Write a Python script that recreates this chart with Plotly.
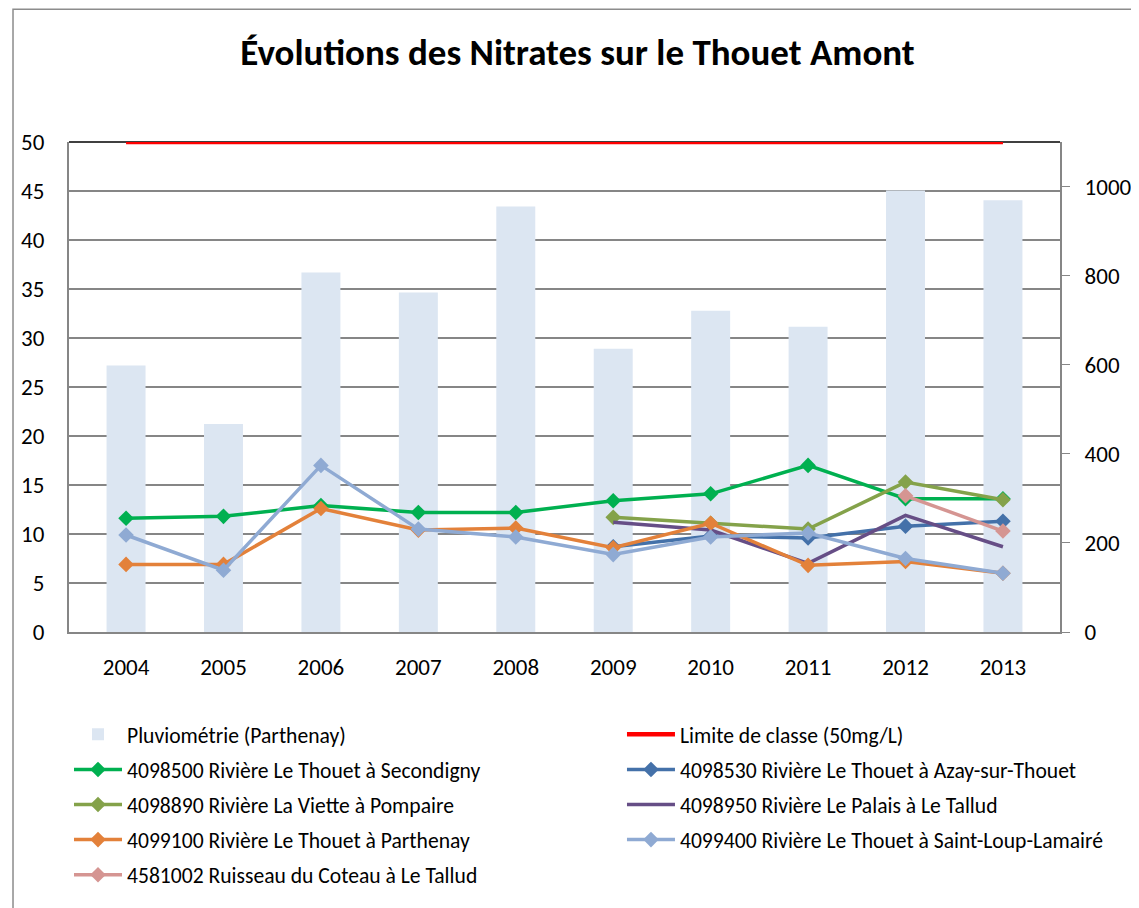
import plotly.graph_objects as go

years = ["2004", "2005", "2006", "2007", "2008", "2009", "2010", "2011", "2012", "2013"]

pluvio = [598, 467, 807, 762, 955, 636, 721, 685, 991, 969]
limite = [50, 50, 50, 50, 50, 50, 50, 50, 50, 50]
secondigny = [11.6, 11.8, 12.9, 12.2, 12.2, 13.4, 14.1, 17.0, 13.6, 13.6]
azay = [None, None, None, None, None, 8.7, 9.8, 9.6, 10.8, 11.3]
viette = [None, None, None, None, None, 11.7, 11.1, 10.5, 15.3, 13.5]
palais = [None, None, None, None, None, 11.2, 10.4, 7.0, 11.9, 8.7]
parthenay = [6.9, 6.9, 12.6, 10.4, 10.6, 8.6, 11.1, 6.8, 7.2, 6.0]
saint_loup = [9.9, 6.3, 17.0, 10.5, 9.7, 7.9, 9.7, 10.1, 7.5, 6.0]
coteau = [None, None, None, None, None, None, None, None, 13.9, 10.3]

FONT = "Calibri, Carlito, Lato, sans-serif"

fig = go.Figure()

# rainfall bars on the primary (right) axis so the lines draw on top
fig.add_trace(go.Bar(
    x=years, y=pluvio, name="Pluviométrie (Parthenay)",
    marker=dict(color="#DCE6F2", line=dict(width=0)),
    width=0.4, yaxis="y", legend="legend", legendgroup="a"
))


def add_line(values, name, color, legend, group, markers=True):
    fig.add_trace(go.Scatter(
        x=years, y=values, name=name,
        mode="lines+markers" if markers else "lines",
        line=dict(color=color, width=3.5),
        marker=dict(symbol="diamond", size=12, color=color),
        yaxis="y2", cliponaxis=False,
        legend=legend, legendgroup=group
    ))


fig.add_trace(go.Scatter(
    x=years, y=limite, name="Limite de classe (50mg/L)", mode="lines",
    line=dict(color="#FF0000", width=4.5), yaxis="y2", cliponaxis=False,
    legend="legend2", legendgroup="b"
))
add_line(secondigny, "4098500 Rivière Le Thouet à Secondigny", "#00B050", "legend", "c")
add_line(azay, "4098530 Rivière Le Thouet à Azay-sur-Thouet", "#4471A9", "legend2", "d")
add_line(viette, "4098890 Rivière La Viette à Pompaire", "#84A24A", "legend", "e")
add_line(palais, "4098950 Rivière Le Palais à Le Tallud", "#664E86", "legend2", "f", markers=False)
add_line(parthenay, "4099100 Rivière Le Thouet à Parthenay", "#E3813A", "legend", "g")
add_line(saint_loup, "4099400 Rivière Le Thouet à Saint-Loup-Lamairé", "#8FAAD3", "legend2", "h")
add_line(coteau, "4581002 Ruisseau du Coteau à Le Tallud", "#D59592", "legend", "i")

legend_style = dict(
    orientation="v", xanchor="left", yanchor="top",
    font=dict(family=FONT, size=21.6, color="#000000"),
    tracegroupgap=4, itemwidth=48, bgcolor="rgba(0,0,0,0)",
    traceorder="grouped"
)

fig.update_layout(
    width=1139, height=908,
    paper_bgcolor="white", plot_bgcolor="white",
    margin=dict(l=61, r=87, t=134, b=284),
    font=dict(family=FONT, size=23, color="#000000"),
    title=dict(
        text="<b>Évolutions des Nitrates sur le Thouet Amont</b>",
        font=dict(family=FONT, size=37, color="#000000"),
        x=0.5, xanchor="center", y=0.9515, yanchor="middle"
    ),
    xaxis=dict(
        type="category", showgrid=False, ticks="",
        showline=True, linecolor="#868686", linewidth=2,
        tickfont=dict(size=23), ticklabelstandoff=13
    ),
    yaxis=dict(
        side="right", range=[0, 1100], tickvals=[0, 200, 400, 600, 800, 1000],
        showgrid=False, zeroline=False, showline=True, linecolor="#868686",
        linewidth=2, ticks="outside", ticklen=8, tickcolor="#868686",
        tickfont=dict(size=23), ticklabelstandoff=10
    ),
    yaxis2=dict(
        overlaying="y", side="left", range=[0, 50], dtick=5,
        showgrid=True, gridcolor="#868686", gridwidth=1.5, zeroline=False,
        showline=True, linecolor="#868686", linewidth=2, ticks="",
        tickfont=dict(size=23), ticklabelstandoff=18
    ),
    legend=dict(x=0.0, y=-0.167, **legend_style),
    legend2=dict(x=0.558, y=-0.167, **legend_style),
    showlegend=True,
    shapes=[
        # outer chart frame
        dict(type="rect", xref="paper", yref="paper",
             x0=-0.0565, x1=1.2, y0=-0.8, y1=1.271,
             line=dict(color="#8C8C8C", width=1.5), layer="below"),
        # dark top border of the plot area
        dict(type="line", xref="paper", yref="paper",
             x0=0, x1=1, y0=1, y1=1, line=dict(color="#000000", width=1.5),
             layer="below"),
    ],
)

fig.write_html("out.html")
